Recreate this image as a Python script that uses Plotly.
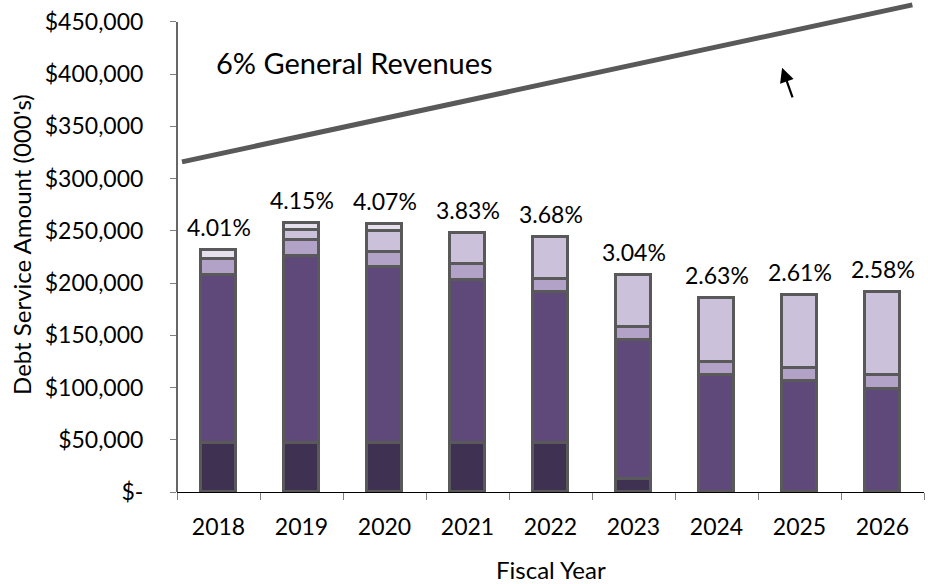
import plotly.graph_objects as go

years = [2018, 2019, 2020, 2021, 2022, 2023, 2024, 2025, 2026]
seg_darkest = [47200, 47200, 47200, 46600, 47200, 12700, 0, 0, 0]
seg_dark = [160300, 178800, 167900, 156600, 144300, 132500, 112000, 106000, 98600]
seg_medium = [15300, 15300, 14900, 14700, 12700, 13000, 12800, 12400, 13400]
seg_light = [0, 9600, 20100, 30300, 40200, 49200, 60700, 70200, 79500]
seg_verylight = [8900, 6400, 6100, 0, 0, 0, 0, 0, 0]
pct_labels = ["4.01%", "4.15%", "4.07%", "3.83%", "3.68%", "3.04%", "2.63%", "2.61%", "2.58%"]

revenue_x = [2017.56, 2026.36]
revenue_y = [316000, 466300]

y_ticks = [0, 50000, 100000, 150000, 200000, 250000, 300000, 350000, 400000, 450000]
y_ticktext = ["$-", "$50,000", "$100,000", "$150,000", "$200,000", "$250,000",
              "$300,000", "$350,000", "$400,000", "$450,000"]

FONT = "Lato"
colors = ["#3f3151", "#5f497a", "#b3a2c7", "#ccc1da", "#e5e0ec"]
series = [seg_darkest, seg_dark, seg_medium, seg_light, seg_verylight]

fig = go.Figure()
for vals, c in zip(series, colors):
    fig.add_trace(go.Bar(
        x=years, y=vals, width=0.42,
        marker=dict(color=c, line=dict(color="#595959", width=2.8)),
        showlegend=False, hoverinfo="skip",
    ))

fig.add_trace(go.Scatter(
    x=revenue_x, y=revenue_y, mode="lines",
    line=dict(color="#595959", width=5), showlegend=False, hoverinfo="skip",
))

totals = [sum(v) for v in zip(*series)]
for yr, tot, lab in zip(years, totals, pct_labels):
    fig.add_annotation(x=yr, y=tot, text=lab, showarrow=False, yanchor="bottom",
                       yshift=7, font=dict(family=FONT, size=23, color="black"))

fig.add_annotation(x=2017.946, y=411600, text="6% General Revenues", showarrow=False,
                   xanchor="left", yanchor="middle",
                   font=dict(family=FONT, size=29, color="black"))

fig.add_annotation(x=2024.79, y=406000, text="", showarrow=True, ax=11, ay=31,
                   arrowhead=2, arrowsize=1.3, arrowwidth=2.2, arrowcolor="black")

fig.add_annotation(x=0.5, y=-0.157, xref="paper", yref="paper", text="Fiscal Year",
                   showarrow=False, xanchor="center", yanchor="middle",
                   font=dict(family=FONT, size=24, color="black"))
fig.add_annotation(x=-0.209, y=0.505, xref="paper", yref="paper",
                   text="Debt Service Amount (000's)", textangle=-90,
                   showarrow=False, xanchor="center", yanchor="middle",
                   font=dict(family=FONT, size=24, color="black"))

# y axis line only up to top tick
fig.add_shape(type="line", xref="paper", yref="y", x0=0, x1=0, y0=0, y1=450000,
              line=dict(color="black", width=1.2))

fig.update_layout(
    width=928, height=584,
    margin=dict(l=177, r=4, t=1, b=92),
    paper_bgcolor="white", plot_bgcolor="white",
    barmode="stack", bargap=0,
    font=dict(family=FONT, color="black"),
    xaxis=dict(
        range=[2017.5, 2026.5], tickmode="array", tickvals=years,
        ticktext=[str(y) for y in years], ticks="", showgrid=False, zeroline=False,
        showline=True, linecolor="black", linewidth=1.2, automargin=False,
        tickfont=dict(family=FONT, size=23, color="black"),
        ticklabelstandoff=14,
        minor=dict(tickvals=[y - 0.5 for y in years] + [2026.5], ticks="outside",
                   ticklen=7, tickcolor="#808080", showgrid=False),
    ),
    yaxis=dict(
        range=[0, 470000], tickmode="array", tickvals=y_ticks, ticktext=y_ticktext,
        ticks="outside", ticklen=6, tickcolor="#808080", showgrid=False,
        zeroline=False, showline=False, automargin=False,
        tickfont=dict(family=FONT, size=23, color="black"),
        ticklabelstandoff=22,
    ),
)

fig.write_html("out.html", config={"displayModeBar": False},
               post_script="document.body.style.margin='0';document.body.style.padding='0';")
